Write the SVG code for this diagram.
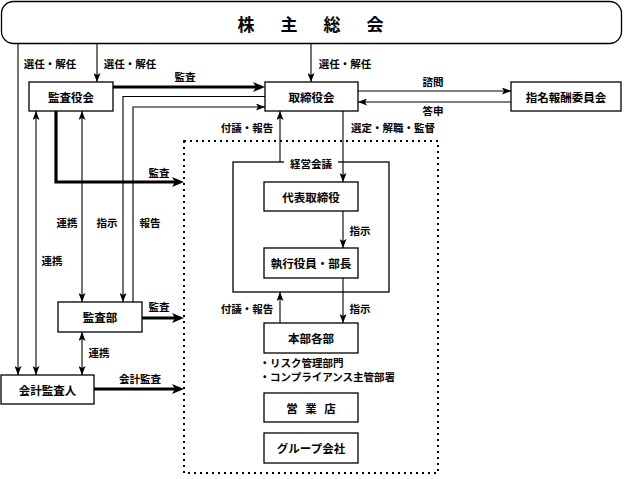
<svg xmlns="http://www.w3.org/2000/svg" width="624" height="479" viewBox="0 0 624 479">
<style>
text{font-family:"Noto Sans CJK JP","Noto Sans CJK SC",sans-serif;fill:#000;dominant-baseline:central;text-anchor:middle;font-weight:bold}
.bx{fill:#fff;stroke:#000;stroke-width:1.3}
.nt{font-size:11.5px}
.lb{font-size:10.5px}
.ln{fill:none;stroke:#000;stroke-width:1.1}
.th{fill:none;stroke:#000;stroke-width:3.2}
.ti{font-size:17px}
.dot{fill:none;stroke:#000;stroke-width:2;stroke-dasharray:2 4}
</style>
<defs>
<marker id="a" viewBox="0 0 9 7" markerWidth="9" markerHeight="7" refX="9" refY="3.5" markerUnits="userSpaceOnUse" orient="auto-start-reverse"><path d="M0,0 L9,3.5 L0,7 L2,3.5 z" fill="#000"/></marker>
<marker id="t" viewBox="0 0 12 10" markerWidth="12" markerHeight="10" refX="8" refY="5" markerUnits="userSpaceOnUse" orient="auto"><path d="M0,0 L12,5 L0,10 L3,5 z" fill="#000"/></marker>
</defs>
<g id="dotted-area"><rect class="dot" x="184" y="141" width="254" height="332"/></g>
<g id="connectors">
<path class="ln" d="M18,44 V375" marker-end="url(#a)"/>
<path class="ln" d="M97,44 V82" marker-end="url(#a)"/>
<path class="ln" d="M311,44 V82" marker-end="url(#a)"/>
<path class="th" d="M113,87 H261" marker-end="url(#t)"/>
<path class="ln" d="M358,91 H511" marker-end="url(#a)"/>
<path class="ln" d="M511,102 H358" marker-end="url(#a)"/>
<path class="ln" d="M265,96.5 H123 V302" marker-end="url(#a)"/>
<path class="ln" d="M133,302 V107 H265" marker-end="url(#a)"/>
<path class="th" d="M56,111 V182 H180" marker-end="url(#t)"/>
<path class="ln" d="M36,111 V375" marker-start="url(#a)" marker-end="url(#a)"/>
<path class="ln" d="M82,111 V302" marker-start="url(#a)" marker-end="url(#a)"/>
<path class="th" d="M142,318 H180" marker-end="url(#t)"/>
<path class="ln" d="M82,332 V375" marker-start="url(#a)" marker-end="url(#a)"/>
<path class="th" d="M94,389 H180" marker-end="url(#t)"/>
<path class="ln" d="M280,162 V111" marker-end="url(#a)"/>
<path class="ln" d="M343,111 V182" marker-end="url(#a)"/>
<path class="ln" d="M343,211 V248" marker-end="url(#a)"/>
<path class="ln" d="M343,278 V323" marker-end="url(#a)"/>
<path class="ln" d="M280,323 V292" marker-end="url(#a)"/>
</g>
<g id="labels">
<text class="lb" x="50" y="63">選任・解任</text>
<text class="lb" x="130" y="63">選任・解任</text>
<text class="lb" x="345" y="63">選任・解任</text>
<text class="lb" x="185" y="76">監査</text>
<text class="lb" x="433" y="81">諮問</text>
<text class="lb" x="433" y="110">答申</text>
<text class="lb" x="247" y="127">付議・報告</text>
<text class="lb" x="393" y="127">選定・解職・監督</text>
<text class="lb" x="159" y="172">監査</text>
<text class="lb" x="67" y="222">連携</text>
<text class="lb" x="107" y="222">指示</text>
<text class="lb" x="150" y="222">報告</text>
<text class="lb" x="52" y="260">連携</text>
<text class="lb" x="159" y="306">監査</text>
<text class="lb" x="99" y="352">連携</text>
<text class="lb" x="140" y="378">会計監査</text>
<text class="lb" x="360" y="230">指示</text>
<text class="lb" x="360" y="308">指示</text>
<text class="lb" x="247" y="308">付議・報告</text>
<text class="lb" x="259.5" y="362" style="text-anchor:start">・リスク管理部門</text>
<text class="lb" x="259.5" y="376" style="text-anchor:start">・コンプライアンス主管部署</text>
</g>
<g id="shareholders"><rect class="bx" x="1.5" y="1.5" width="620" height="42" rx="12"/><text class="ti" x="311" y="23"><tspan x="246">株</tspan><tspan x="289">主</tspan><tspan x="332">総</tspan><tspan x="375">会</tspan></text></g>
<g id="kansayakukai"><rect class="bx" x="29" y="82" width="84" height="29"/><text class="nt" x="71" y="97">監査役会</text></g>
<g id="torishimariyakukai"><rect class="bx" x="265" y="82" width="93" height="29"/><text class="nt" x="311.5" y="97">取締役会</text></g>
<g id="shimei"><rect class="bx" x="511" y="82" width="110" height="29"/><text class="nt" x="566" y="97">指名報酬委員会</text></g>
<g id="kansabu"><rect class="bx" x="58" y="302" width="84" height="30"/><text class="nt" x="100" y="317">監査部</text></g>
<g id="kaikei"><rect class="bx" x="1" y="375" width="93" height="29"/><text class="nt" x="47.5" y="390">会計監査人</text></g>
<g id="keieikaigi"><rect class="bx" x="233" y="162" width="156" height="130" style="fill:none"/><rect x="284" y="156" width="54" height="12" fill="#fff"/><text class="lb" x="311" y="163">経営会議</text></g>
<g id="daihyo"><rect class="bx" x="264" y="182" width="94" height="29"/><text class="nt" x="311" y="197">代表取締役</text></g>
<g id="shikko"><rect class="bx" x="264" y="248" width="94" height="30"/><text class="nt" x="311" y="263">執行役員・部長</text></g>
<g id="honbu"><rect class="bx" x="264" y="323" width="94" height="30"/><text class="nt" x="311" y="338">本部各部</text></g>
<g id="eigyoten"><rect class="bx" x="264" y="393" width="94" height="29"/><text class="nt" x="311" y="408"><tspan x="292">営</tspan><tspan x="311">業</tspan><tspan x="330">店</tspan></text></g>
<g id="group"><rect class="bx" x="264" y="433" width="94" height="30"/><text class="nt" x="311" y="448">グループ会社</text></g>
</svg>
